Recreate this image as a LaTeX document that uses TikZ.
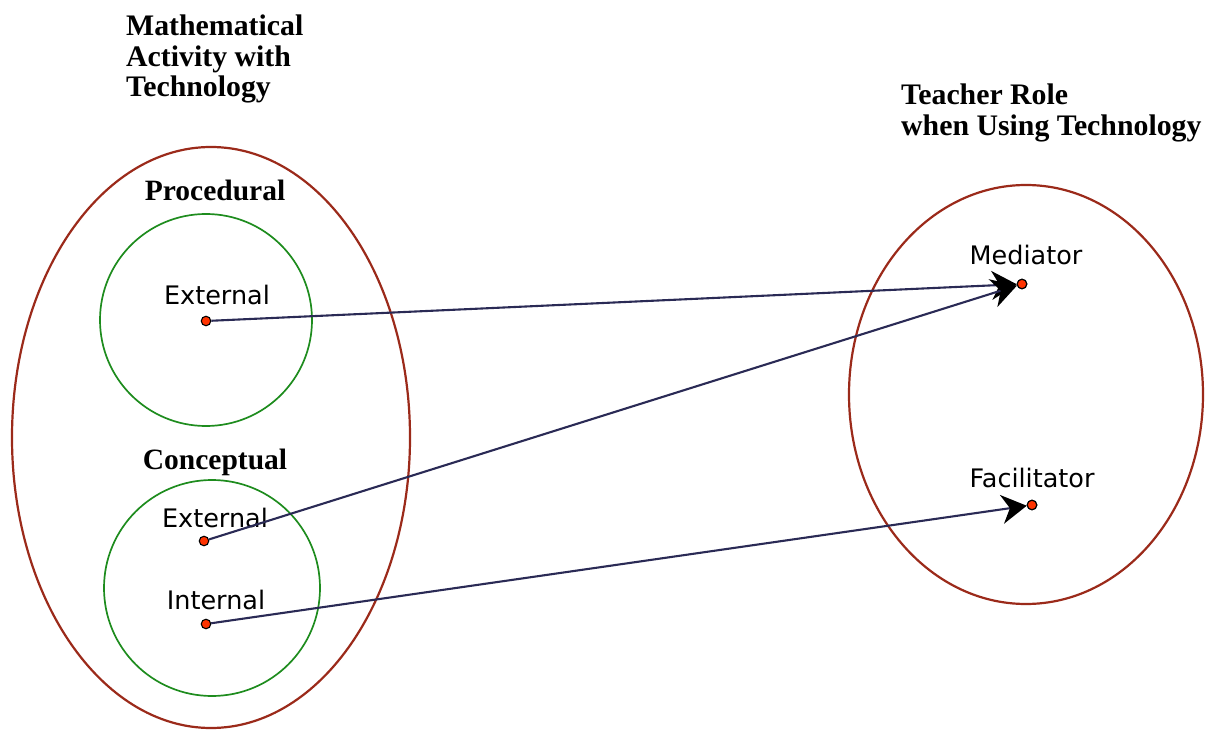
\documentclass[tikz,border=0pt]{standalone}
\usepackage{fontspec}
\setmainfont{Liberation Serif}
\newfontfamily\lblfont{DejaVu Sans}
\usetikzlibrary{arrows.meta}
\definecolor{ellred}{HTML}{9B2A1A}
\definecolor{circgreen}{HTML}{1E8C1E}
\definecolor{navy}{HTML}{2A2A55}
\definecolor{dotred}{HTML}{FF3300}
\begin{document}
\begin{tikzpicture}[x=1pt,y=-1pt,
  bigell/.style={draw=ellred,line width=2.2pt},
  grcirc/.style={draw=circgreen,line width=1.7pt},
  dotnode/.style={circle,draw=black,fill=dotred,line width=1.1pt,minimum size=9.5pt,inner sep=0pt},
  title/.style={font=\bfseries\fontsize{29.8}{30.5}\selectfont,align=left,inner sep=0pt,anchor=north west},
  subtitle/.style={font=\bfseries\fontsize{29.5}{30}\selectfont,inner sep=0pt,anchor=base},
  lbl/.style={font=\lblfont\fontsize{25.5}{28}\selectfont,inner sep=0pt,anchor=base},
  conn/.style={draw=navy,line width=2.1pt,-{Stealth[length=25pt,width=29pt,inset=8pt,black]}}]
\useasboundingbox (0,0) rectangle (1211,730);
% ellipses
\draw[bigell] (211,437.5) ellipse [x radius=199, y radius=290.5];
\draw[bigell] (1026,394.5) ellipse [x radius=177, y radius=209.5];
\draw[grcirc] (206,320) circle [radius=106];
\draw[grcirc] (212,588) circle [radius=108];
% titles
\node[title] (t1) at (126,15) {Mathematical\\Activity with\\Technology};
\node[title] (t2) at (901,84) {Teacher Role\\when Using Technology};
\node[subtitle] (proc) at (215,201) {Procedural};
\node[subtitle] (conc) at (215,469) {Conceptual};
% labels
\node[lbl] (l1) at (217,305) {External};
\node[lbl] (l2) at (215,527) {External};
\node[lbl] (l3) at (216,609) {Internal};
\node[lbl] (l4) at (1026,265) {Mediator};
\node[lbl] (l5) at (1032,487) {Facilitator};
% dots
\node[dotnode] (d1) at (206,321) {};
\node[dotnode] (d2) at (204,541) {};
\node[dotnode] (d3) at (206,624) {};
\node[dotnode] (med) at (1022,284) {};
\node[dotnode] (fac) at (1032,505) {};
% connectors
\draw[conn] (d1) -- (med);
\draw[conn] (d2) -- (med);
\draw[conn] (d3) -- (fac);
\node[dotnode] at (med) {};
\node[dotnode] at (fac) {};
\end{tikzpicture}
\end{document}
